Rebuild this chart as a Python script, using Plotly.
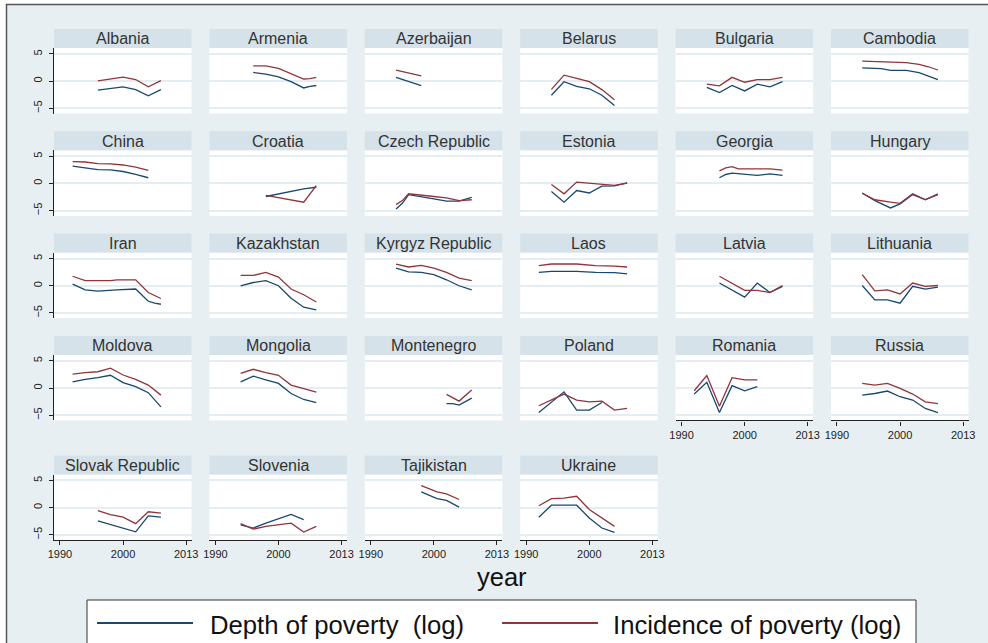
import plotly.graph_objects as go

# values (log scale); x uses the chart's own year scale
albania_yr = [1996, 1998, 2000, 2002, 2004, 2006]
albania_dep = [-1.65, -1.3, -1.05, -1.55, -2.7, -1.55]
albania_inc = [0.05, 0.4, 0.75, 0.3, -1.05, 0.1]

armenia_yr = [1996, 1998, 2000, 2002, 2004, 2005, 2006]
armenia_dep = [1.6, 1.3, 0.8, -0.1, -1.25, -0.95, -0.8]
armenia_inc = [2.8, 2.8, 2.35, 1.3, 0.4, 0.45, 0.7]

azerbaijan_yr = [1994, 1998]
azerbaijan_dep = [0.7, -0.8]
azerbaijan_inc = [2.05, 0.95]

belarus_yr = [1994, 1996, 1998, 2000, 2002, 2004]
belarus_dep = [-2.6, -0.1, -0.95, -1.4, -2.6, -4.5]
belarus_inc = [-1.5, 1.1, 0.5, -0.1, -1.55, -3.4]

bulgaria_yr = [1994, 1996, 1998, 2000, 2002, 2004, 2006]
bulgaria_dep = [-1.15, -2.1, -0.8, -1.8, -0.55, -1.05, -0.1]
bulgaria_inc = [-0.55, -0.85, 0.7, -0.2, 0.3, 0.3, 0.7]

cambodia_yr = [1994, 1997, 1998.5, 2001, 2003, 2004.5, 2006]
cambodia_dep = [2.45, 2.3, 2.0, 2.0, 1.55, 0.95, 0.3]
cambodia_inc = [3.7, 3.6, 3.5, 3.4, 3.1, 2.65, 2.05]

china_yr = [1992, 1994, 1996, 1998, 2000, 2002, 2004]
china_dep = [3.2, 2.85, 2.55, 2.5, 2.2, 1.65, 1.05]
china_inc = [4.0, 3.95, 3.65, 3.6, 3.4, 3.0, 2.4]

croatia_yr = [1998, 2000, 2002, 2004, 2006]
croatia_dep = [-2.4, -1.9, -1.45, -1.0, -0.7]
croatia_inc = [-2.2, -2.6, -3.1, -3.45, -0.4]

czech_yr = [1994, 1995, 1996, 1998, 2000, 2002, 2004, 2006]
czech_dep = [-4.7, -3.65, -2.05, -2.4, -2.85, -3.25, -3.25, -2.55]
czech_inc = [-3.9, -3.15, -1.9, -2.1, -2.4, -2.65, -3.15, -3.0]

estonia_yr = [1994, 1996, 1998, 2000, 2002, 2004, 2006]
estonia_dep = [-1.5, -3.45, -1.3, -1.75, -0.5, -0.45, 0.1]
estonia_inc = [-0.2, -1.9, 0.25, 0.05, -0.25, -0.35, 0.05]

georgia_yr = [1996, 1997, 1998, 1999, 2002, 2004, 2006]
georgia_dep = [1.05, 1.65, 1.9, 1.8, 1.5, 1.75, 1.5]
georgia_inc = [2.3, 2.85, 3.1, 2.7, 2.7, 2.7, 2.45]

hungary_yr = [1994, 1996, 1998.5, 2000, 2002, 2004, 2006]
hungary_dep = [-1.75, -3.15, -4.5, -3.75, -2.05, -2.95, -2.05]
hungary_inc = [-1.8, -3.0, -3.45, -3.65, -1.9, -3.0, -1.9]

iran_yr = [1992, 1994, 1996, 1998, 1999, 2002, 2004, 2005, 2006]
iran_dep = [0.3, -0.75, -1.0, -0.8, -0.75, -0.6, -2.85, -3.2, -3.4]
iran_inc = [1.75, 0.95, 0.95, 0.95, 1.1, 1.1, -1.25, -1.8, -2.35]

kazakhstan_yr = [1994, 1996, 1998, 2000, 2002, 2004, 2006]
kazakhstan_dep = [0.0, 0.6, 0.95, 0.0, -2.3, -3.95, -4.45]
kazakhstan_inc = [1.9, 1.9, 2.45, 1.6, -0.6, -1.65, -3.0]

kyrgyz_yr = [1994, 1996, 1998, 2000, 2002, 2004, 2006]
kyrgyz_dep = [3.25, 2.55, 2.45, 2.05, 1.1, 0.0, -0.75]
kyrgyz_inc = [4.0, 3.45, 3.75, 3.25, 2.45, 1.4, 0.95]

laos_yr = [1992, 1994, 1998, 2001, 2004, 2006]
laos_dep = [2.45, 2.65, 2.65, 2.45, 2.4, 2.2]
laos_inc = [3.7, 4.0, 4.0, 3.7, 3.6, 3.45]

latvia_yr = [1996, 2000, 2002, 2004, 2006]
latvia_dep = [0.5, -2.1, 0.5, -1.25, -0.1]
latvia_inc = [1.75, -0.85, -0.85, -1.25, 0.05]

lithuania_yr = [1994, 1996, 1998, 2000, 2002, 2004, 2006]
lithuania_dep = [0.05, -2.6, -2.6, -3.2, -0.1, -0.6, -0.25]
lithuania_inc = [2.05, -0.95, -0.75, -1.5, 0.5, -0.1, 0.05]

moldova_yr = [1992, 1994, 1996, 1998, 2000, 2002, 2004, 2006]
moldova_dep = [1.15, 1.6, 1.9, 2.35, 1.0, 0.25, -0.85, -3.45]
moldova_inc = [2.55, 2.85, 3.0, 3.65, 2.4, 1.6, 0.55, -1.3]

mongolia_yr = [1994, 1996, 1998, 2000, 2002, 2004, 2006]
mongolia_dep = [1.15, 2.2, 1.5, 0.85, -1.0, -2.1, -2.7]
mongolia_inc = [2.7, 3.45, 2.85, 2.35, 0.55, -0.1, -0.75]

montenegro_yr = [2002, 2003, 2004, 2006]
montenegro_dep = [-2.85, -2.85, -3.15, -1.85]
montenegro_inc = [-1.15, -1.8, -2.4, -0.35]

poland_yr = [1992, 1994, 1996, 1998, 2000, 2002, 2004, 2006]
poland_dep = [-4.5, -2.55, -0.7, -4.05, -4.05, -2.65, None, None]
poland_inc = [-3.25, -2.1, -1.1, -2.2, -2.55, -2.4, -4.05, -3.75]

romania_yr = [1992, 1994, 1996, 1998, 2000, 2002]
romania_dep = [-1.1, 1.05, -4.5, 0.45, -0.5, 0.25]
romania_inc = [-0.5, 2.3, -3.35, 1.9, 1.5, 1.5]

russia_yr = [1994, 1996, 1998, 2000, 2002, 2004, 2006]
russia_dep = [-1.3, -1.0, -0.55, -1.6, -2.2, -3.75, -4.5]
russia_inc = [0.85, 0.55, 0.85, -0.05, -1.1, -2.55, -2.85]

slovak_yr = [1996, 1998, 2000, 2002, 2004, 2006]
slovak_dep = [-2.45, -3.15, -3.75, -4.45, -1.5, -1.75]
slovak_inc = [-0.55, -1.3, -1.75, -2.95, -0.75, -1.0]

slovenia_yr = [1994, 1996, 1998, 2000, 2002, 2004, 2006]
slovenia_dep = [-3.15, -3.75, -2.85, -2.1, -1.25, -2.2, None]
slovenia_inc = [-2.95, -3.95, -3.45, -3.15, -2.85, -4.5, -3.45]

tajikistan_yr = [1998, 2000.5, 2002, 2004]
tajikistan_dep = [2.9, 1.65, 1.35, 0.1]
tajikistan_inc = [4.05, 2.9, 2.55, 1.5]

ukraine_yr = [1992, 1994, 1996, 1998, 2000, 2002, 2004]
ukraine_dep = [-1.75, 0.45, 0.45, 0.45, -1.9, -3.75, -4.55]
ukraine_inc = [0.35, 1.65, 1.75, 2.1, -0.35, -1.9, -3.45]

panels = [
    ("Albania", albania_yr, albania_dep, albania_inc),
    ("Armenia", armenia_yr, armenia_dep, armenia_inc),
    ("Azerbaijan", azerbaijan_yr, azerbaijan_dep, azerbaijan_inc),
    ("Belarus", belarus_yr, belarus_dep, belarus_inc),
    ("Bulgaria", bulgaria_yr, bulgaria_dep, bulgaria_inc),
    ("Cambodia", cambodia_yr, cambodia_dep, cambodia_inc),
    ("China", china_yr, china_dep, china_inc),
    ("Croatia", croatia_yr, croatia_dep, croatia_inc),
    ("Czech Republic", czech_yr, czech_dep, czech_inc),
    ("Estonia", estonia_yr, estonia_dep, estonia_inc),
    ("Georgia", georgia_yr, georgia_dep, georgia_inc),
    ("Hungary", hungary_yr, hungary_dep, hungary_inc),
    ("Iran", iran_yr, iran_dep, iran_inc),
    ("Kazakhstan", kazakhstan_yr, kazakhstan_dep, kazakhstan_inc),
    ("Kyrgyz Republic", kyrgyz_yr, kyrgyz_dep, kyrgyz_inc),
    ("Laos", laos_yr, laos_dep, laos_inc),
    ("Latvia", latvia_yr, latvia_dep, latvia_inc),
    ("Lithuania", lithuania_yr, lithuania_dep, lithuania_inc),
    ("Moldova", moldova_yr, moldova_dep, moldova_inc),
    ("Mongolia", mongolia_yr, mongolia_dep, mongolia_inc),
    ("Montenegro", montenegro_yr, montenegro_dep, montenegro_inc),
    ("Poland", poland_yr, poland_dep, poland_inc),
    ("Romania", romania_yr, romania_dep, romania_inc),
    ("Russia", russia_yr, russia_dep, russia_inc),
    ("Slovak Republic", slovak_yr, slovak_dep, slovak_inc),
    ("Slovenia", slovenia_yr, slovenia_dep, slovenia_inc),
    ("Tajikistan", tajikistan_yr, tajikistan_dep, tajikistan_inc),
    ("Ukraine", ukraine_yr, ukraine_dep, ukraine_inc),
]

x_tickvals = [1990, 2000, 2010]
x_ticktext = ["1990", "2000", "2013"]
y_tickvals = [-5, 0, 5]

W, H = 988, 643
NAVY = "#1a476f"
MAROON = "#90353b"
BG = "#e8eff2"
STRIP = "#d5e2e9"
GRID = "#e4edf1"
FONT = "Liberation Sans, Arial, sans-serif"

col_left = [54 + 155.4 * c for c in range(6)]
row_top = [48, 150.3, 252.6, 354.9, 474.5]
PW, PH, SH = 137.5, 65.5, 19


def fx(px):
    return px / W


def fy(py):
    return 1 - py / H


fig = go.Figure()
shapes = []
annotations = []
axes = {}

for i, (name, yr, dep, inc) in enumerate(panels):
    r, c = divmod(i, 6)
    k = "" if i == 0 else str(i + 1)
    x0 = col_left[c]
    top = row_top[r]

    fig.add_trace(go.Scatter(x=yr, y=dep, mode="lines", line=dict(color=NAVY, width=1.3),
                             xaxis="x" + k, yaxis="y" + k, showlegend=False,
                             name="Depth of poverty (log)"))
    fig.add_trace(go.Scatter(x=yr, y=inc, mode="lines", line=dict(color=MAROON, width=1.3),
                             xaxis="x" + k, yaxis="y" + k, showlegend=False,
                             name="Incidence of poverty (log)"))

    has_x = i >= 22
    has_y = c == 0
    axes["xaxis" + k] = dict(
        domain=[fx(x0), fx(x0 + PW)], anchor="y" + k, range=[1989.05, 2010.85],
        tickvals=x_tickvals, ticktext=x_ticktext, showticklabels=has_x,
        ticks="outside" if has_x else "", ticklen=4, tickcolor="#222",
        showline=has_x, linecolor="#222", linewidth=1.2,
        showgrid=False, zeroline=False, fixedrange=True, automargin=False,
        tickfont=dict(size=11, color="#222", family=FONT))
    axes["yaxis" + k] = dict(
        domain=[fy(top + PH), fy(top)], anchor="x" + k, range=[-5.95, 6.1],
        tickvals=y_tickvals, showticklabels=has_y, tickangle=-90,
        ticks="outside" if has_y else "", ticklen=4, tickcolor="#222",
        showline=has_y, linecolor="#222", linewidth=1.2, ticklabelstandoff=3,
        showgrid=True, gridcolor=GRID, gridwidth=1.5, zeroline=False, fixedrange=True,
        automargin=False, tickfont=dict(size=11, color="#222", family=FONT))

    shapes.append(dict(type="rect", xref="paper", yref="paper",
                       x0=fx(x0), x1=fx(x0 + PW), y0=fy(top), y1=fy(top - SH),
                       fillcolor=STRIP, line=dict(width=0), layer="below"))
    annotations.append(dict(text=name, xref="paper", yref="paper",
                            x=fx(x0 + PW / 2), y=fy(top - SH / 2 + 0.5),
                            xanchor="center", yanchor="middle", showarrow=False,
                            font=dict(size=16, color="#333", family=FONT)))

# white margin outside the graph frame, and the frame itself
shapes.append(dict(type="rect", xref="paper", yref="paper", x0=0, x1=1, y0=fy(4.5), y1=1,
                   fillcolor="white", line=dict(width=0), layer="below"))
shapes.append(dict(type="rect", xref="paper", yref="paper", x0=0, x1=fx(6.5), y0=0, y1=1,
                   fillcolor="white", line=dict(width=0), layer="below"))
shapes.append(dict(type="rect", xref="paper", yref="paper", x0=fx(6.5), x1=fx(1100),
                   y0=fy(800), y1=fy(4.5), line=dict(color="#555", width=1.5)))

# legend box
shapes.append(dict(type="rect", xref="paper", yref="paper", x0=fx(87), x1=fx(916),
                   y0=fy(680), y1=fy(600), fillcolor="white", line=dict(color="#333", width=1)))
shapes.append(dict(type="line", xref="paper", yref="paper", x0=fx(97), x1=fx(193),
                   y0=fy(623), y1=fy(623), line=dict(color=NAVY, width=2)))
shapes.append(dict(type="line", xref="paper", yref="paper", x0=fx(502), x1=fx(598),
                   y0=fy(623), y1=fy(623), line=dict(color=MAROON, width=2)))
annotations.append(dict(text="Depth of poverty \u00a0(log)", xref="paper", yref="paper",
                        x=fx(208), y=fy(625), xanchor="left", yanchor="middle", showarrow=False,
                        font=dict(size=25.7, color="#111", family=FONT)))
annotations.append(dict(text="Incidence of poverty (log)", xref="paper", yref="paper",
                        x=fx(611), y=fy(625), xanchor="left", yanchor="middle", showarrow=False,
                        font=dict(size=25.7, color="#111", family=FONT)))

annotations.append(dict(text="year", xref="paper", yref="paper", x=fx(502), y=fy(577),
                        xanchor="center", yanchor="middle", showarrow=False,
                        font=dict(size=25.5, color="#111", family=FONT)))

fig.update_layout(
    width=W, height=H,
    margin=dict(l=0, r=0, t=0, b=0),
    paper_bgcolor=BG, plot_bgcolor="white",
    shapes=shapes, annotations=annotations,
    font=dict(family=FONT),
    **axes)

# the page's default 8px body margin would shift the whole figure
fig.write_html("out.html", config={"displayModeBar": False},
               post_script="document.body.style.margin='0';document.body.style.overflow='hidden';")
